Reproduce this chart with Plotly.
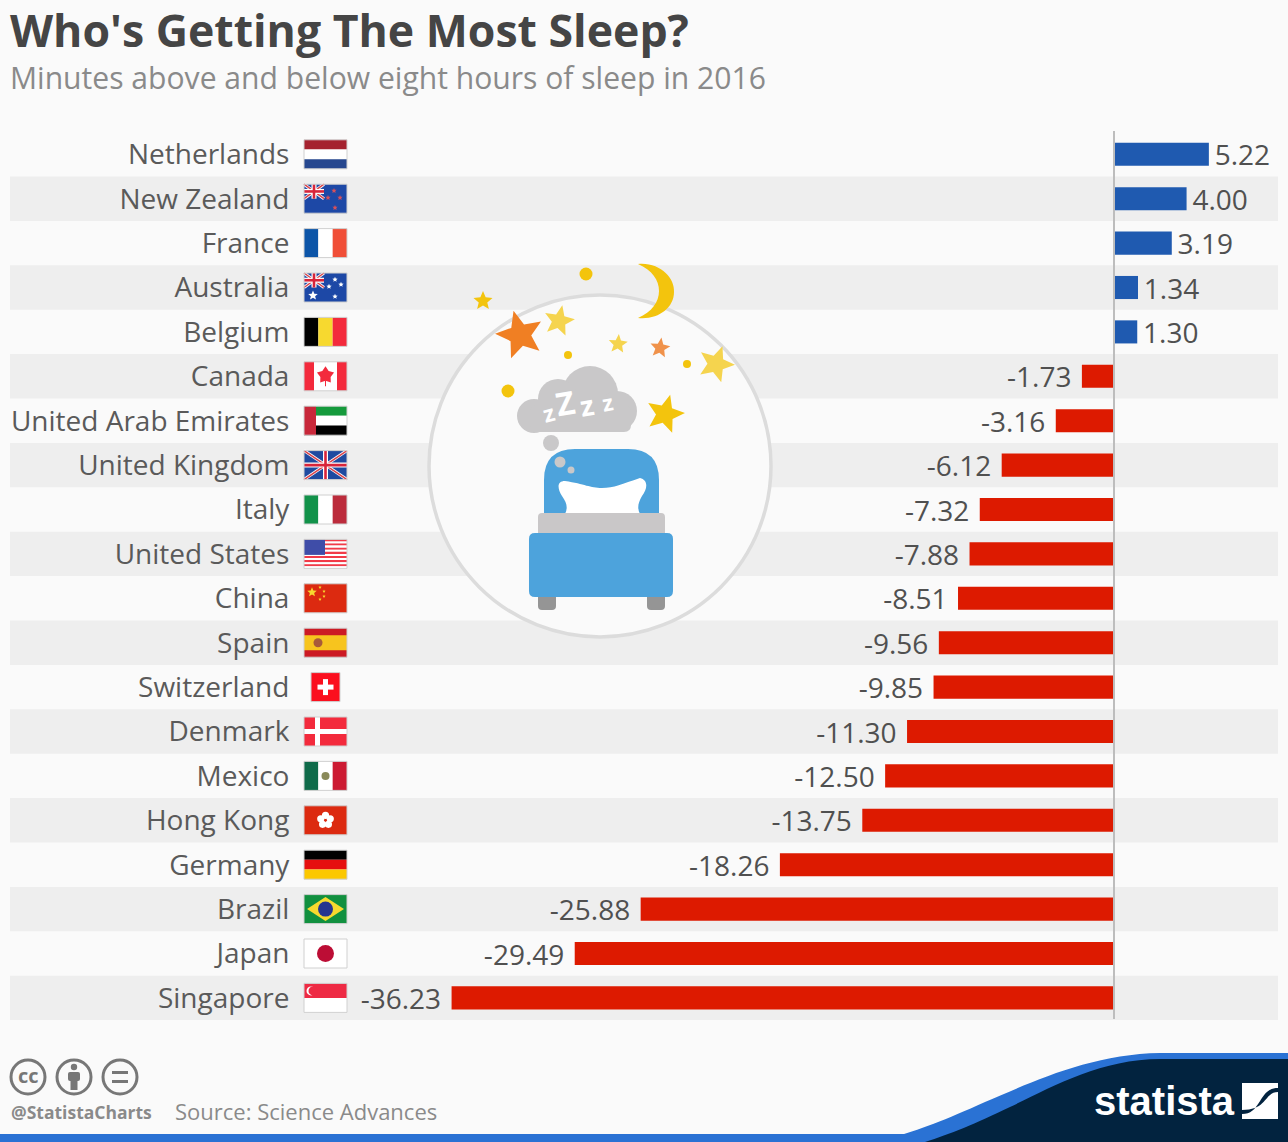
import math
import plotly.graph_objects as go

W, H = 1288, 1142

# Data
countries = ["Netherlands", "New Zealand", "France", "Australia", "Belgium", "Canada",
             "United Arab Emirates", "United Kingdom", "Italy", "United States", "China",
             "Spain", "Switzerland", "Denmark", "Mexico", "Hong Kong", "Germany", "Brazil",
             "Japan", "Singapore"]
minutes = [5.22, 4.00, 3.19, 1.34, 1.30, -1.73, -3.16, -6.12, -7.32, -7.88, -8.51,
           -9.56, -9.85, -11.30, -12.50, -13.75, -18.26, -25.88, -29.49, -36.23]

# Colours
BG = "#fafafa"
BAND = "#eeeeee"
BLUE = "#1f5ab0"
RED = "#dd1a00"
TEXT = "#505050"
GREY = "#8a8a8a"
GOLD = "#f3c40d"
LIGHT = "#f5d44e"
CLOUD = "#c9c8c9"
BED = "#4da3dc"
FONT = "Open Sans"

# Row geometry in page pixels
ROW0, PITCH = 154.3, 44.4
ZERO, SCALE = 1113.5, 18.27
LEFT = 347

shapes = []


def px(x):
    return x / W


def py(y):
    return 1 - y / H


def rect(x0, y0, x1, y1, color):
    shapes.append(dict(type="rect", xref="paper", yref="paper", layer="below",
                       x0=px(x0), x1=px(x1), y0=py(y0), y1=py(y1),
                       fillcolor=color, line_width=0))


def frame(x0, y0, x1, y1, color):
    shapes.append(dict(type="rect", xref="paper", yref="paper", layer="below",
                       x0=px(x0), x1=px(x1), y0=py(y0), y1=py(y1),
                       fillcolor="rgba(0,0,0,0)", line=dict(color=color, width=1)))


def circle(cx, cy, r, color, line=None, lw=0):
    shapes.append(dict(type="circle", xref="paper", yref="paper", layer="below",
                       x0=px(cx - r), x1=px(cx + r), y0=py(cy - r), y1=py(cy + r),
                       fillcolor=color, line=dict(color=line or color, width=lw)))


def path(d, color):
    # d is in page pixels: letters stay, numbers alternate x / y
    out, is_x = [], True
    for tok in d.split():
        if tok.isalpha():
            out.append(tok)
        else:
            out.append(f"{px(float(tok)) if is_x else py(float(tok)):.5f}")
            is_x = not is_x
    shapes.append(dict(type="path", xref="paper", yref="paper", layer="below",
                       path=" ".join(out), fillcolor=color, line_width=0))


def line(x0, y0, x1, y1, color, w):
    shapes.append(dict(type="line", xref="paper", yref="paper", layer="below",
                       x0=px(x0), x1=px(x1), y0=py(y0), y1=py(y1),
                       line=dict(color=color, width=w)))


def star(cx, cy, r, color, rot=0.0, inner=0.45):
    pts = []
    for k in range(10):
        a = math.radians(rot - 90 + 36 * k)
        rr = r if k % 2 == 0 else r * inner
        pts.append((cx + rr * math.cos(a), cy + rr * math.sin(a)))
    d = "M " + " L ".join(f"{a:.2f} {b:.2f}" for a, b in pts) + " Z"
    path(d, color)


def rrect(x0, y0, x1, y1, r, color):
    d = (f"M {x0 + r} {y0} L {x1 - r} {y0} Q {x1} {y0} {x1} {y0 + r} L {x1} {y1 - r} "
         f"Q {x1} {y1} {x1 - r} {y1} L {x0 + r} {y1} Q {x0} {y1} {x0} {y1 - r} "
         f"L {x0} {y0 + r} Q {x0} {y0} {x0 + r} {y0} Z")
    path(d, color)


def row(i):
    return ROW0 + PITCH * i


# Zebra bands
for i in range(1, len(countries), 2):
    rect(10, row(i) - 22.2, 1278, row(i) + 22.2, BAND)

# Flags
FX0, FX1, FH = 304, 347, 14.5


def hflag(c, cols):
    h = 2 * FH / len(cols)
    for k, col in enumerate(cols):
        rect(FX0, c - FH + k * h, FX1, c - FH + (k + 1) * h, col)


def vflag(c, cols):
    w = (FX1 - FX0) / len(cols)
    for k, col in enumerate(cols):
        rect(FX0 + k * w, c - FH, FX0 + (k + 1) * w, c + FH, col)


def jack(x0, y0, x1, y1):
    line(x0, y0, x1, y1, "#ffffff", 3)
    line(x0, y1, x1, y0, "#ffffff", 3)
    line(x0, y0, x1, y1, "#d8424a", 1.5)
    line(x0, y1, x1, y0, "#d8424a", 1.5)
    mx, my = (x0 + x1) / 2, (y0 + y1) / 2
    rect(mx - 2.5, y0, mx + 2.5, y1, "#ffffff")
    rect(x0, my - 2.5, x1, my + 2.5, "#ffffff")
    rect(mx - 1.3, y0, mx + 1.3, y1, "#d8243a")
    rect(x0, my - 1.3, x1, my + 1.3, "#d8243a")


c = row(0)
hflag(c, ["#a5222f", "#ffffff", "#26478f"])
c = row(1)
rect(FX0, c - FH, FX1, c + FH, "#1d48a6")
jack(FX0, c - FH, FX0 + 20, c)
for a, b in [(334, -8), (328, -1), (340, -1), (335, 9)]:
    star(a, c + b, 2.8, "#d8505a")
c = row(2)
vflag(c, ["#0c55a8", "#ffffff", "#f04e37"])
c = row(3)
rect(FX0, c - FH, FX1, c + FH, "#1d48a6")
jack(FX0, c - FH, FX0 + 20, c)
star(313, c + 8, 5, "#ffffff")
for a, b in [(335, -8), (329, -1), (341, -3), (335, 9)]:
    star(a, c + b, 2.8, "#ffffff")
c = row(4)
vflag(c, ["#000000", "#f7d92f", "#f32a3c"])
c = row(5)
rect(FX0, c - FH, FX1, c + FH, "#ffffff")
rect(FX0, c - FH, FX0 + 10, c + FH, "#f32a3c")
rect(FX1 - 10, c - FH, FX1, c + FH, "#f32a3c")
star(325.5, c - 1, 9, "#f32a3c", inner=0.6)
rect(325, c + 4, 326, c + 10, "#f32a3c")
c = row(6)
hflag(c, ["#159a3c", "#ffffff", "#000000"])
rect(FX0, c - FH, FX0 + 12, c + FH, "#c8283a")
c = row(7)
rect(FX0, c - FH, FX1, c + FH, "#1f4aa0")
jack(FX0, c - FH, FX1, c + FH)
c = row(8)
vflag(c, ["#12924a", "#ffffff", "#bc2c3c"])
c = row(9)
for k in range(7):
    rect(FX0, c - FH + k * 29 / 7, FX1, c - FH + (k + 0.5) * 29 / 7, "#f23a48")
    rect(FX0, c - FH + (k + 0.5) * 29 / 7, FX1, c - FH + (k + 1) * 29 / 7, "#ffffff")
rect(FX0, c - FH, FX0 + 21, c + 1, "#3f4da8")
c = row(10)
rect(FX0, c - FH, FX1, c + FH, "#dc2a10")
star(312, c - 6, 5, "#f7d92f")
for a, b in [(320, -11), (324, -7), (324, -2), (320, 1)]:
    star(a, c + b, 1.8, "#f7d92f")
c = row(11)
rect(FX0, c - FH, FX1, c + FH, "#cc1a24")
rect(FX0, c - 7.5, FX1, c + 7.5, "#f7c41e")
circle(318, c, 4.5, "#a85a3a")
c = row(12)
rect(311, c - FH, 340, c + FH, "#fb0f1e")
rect(323, c - 8, 328, c + 8, "#ffffff")
rect(317.5, c - 2.5, 333.5, c + 2.5, "#ffffff")
c = row(13)
rect(FX0, c - FH, FX1, c + FH, "#f32a3c")
rect(315, c - FH, 320, c + FH, "#ffffff")
rect(FX0, c - 2.5, FX1, c + 2.5, "#ffffff")
c = row(14)
vflag(c, ["#0f6b4a", "#ffffff", "#cc1a32"])
circle(325.5, c, 4, "#8a8a5a")
c = row(15)
rect(FX0, c - FH, FX1, c + FH, "#dc2a10")
for k in range(5):
    a = math.radians(-90 + 72 * k)
    circle(325.5 + 5 * math.cos(a), c + 5 * math.sin(a), 3.6, "#ffffff")
c = row(16)
hflag(c, ["#000000", "#e60f0f", "#fcc800"])
c = row(17)
rect(FX0, c - FH, FX1, c + FH, "#11903f")
path(f"M 307 {c} L 325.5 {c - 12} L 344 {c} L 325.5 {c + 12} Z", "#f7d92f")
circle(325.5, c, 7.5, "#26358f")
c = row(18)
rect(FX0, c - FH, FX1, c + FH, "#ffffff")
circle(325.5, c, 8.5, "#bc0d35")
c = row(19)
hflag(c, ["#ee2a44", "#ffffff"])
circle(311, c - 7, 4.5, "#ffffff")
circle(313, c - 7, 4.5, "#ee2a44")

# thin grey edge round every flag
for i in range(len(countries)):
    if countries[i] == "Switzerland":
        frame(311, row(i) - FH, 340, row(i) + FH, "#d0d0d0")
    else:
        frame(FX0, row(i) - FH, FX1, row(i) + FH, "#d0d0d0")

# Illustration
circle(600, 466, 171, BG, "#dcdcdc", 3.5)
path("M 638 264 C 660 262 675 278 674 292 C 674 308 658 320 638 318 "
     "C 652 312 659 302 659 291 C 659 280 652 270 638 264 Z", GOLD)
star(483, 301, 10, GOLD)
star(520, 335, 25, "#f07f23", rot=-15)
star(559, 321, 16, LIGHT, rot=12)
star(618, 344, 10, LIGHT, rot=5)
star(660, 348, 10.5, "#f0924a", rot=8)
star(716, 364, 19, LIGHT, rot=20)
star(665, 414, 20, GOLD, rot=15)
circle(586, 274, 6.5, GOLD)
circle(568, 355, 4, GOLD)
circle(687, 364, 4, GOLD)
circle(508, 391, 6.5, GOLD)
# cloud
circle(590, 394, 28, CLOUD)
circle(558, 399, 20, CLOUD)
circle(617, 411, 20, CLOUD)
circle(534, 416, 17, CLOUD)
rrect(530, 405, 631, 432, 7, CLOUD)
circle(551, 443, 8, CLOUD)
# bed
path("M 544 513 L 544 480 Q 544 449 575 449 L 628 449 Q 659 449 659 480 L 659 513 Z", BED)
path("M 565 481 C 585 484 590 488 602 488 C 614 488 622 484 640 478 C 648 480 648 488 642 496 "
     "C 638 503 637 508 640 514 L 565 514 C 568 508 567 503 562 496 C 557 488 557 481 565 481 Z",
     "#ffffff")
rrect(538, 513, 665, 540, 4, "#c9c7c8")
rrect(538, 590, 556, 610, 4, "#959595")
rrect(647, 590, 665, 610, 4, "#959595")
rrect(529, 533, 673, 597, 6, BED)
circle(560, 462, 5.5, CLOUD)
circle(571, 470, 3.5, CLOUD)

# Licence icons
for a in (28, 74, 120):
    circle(a, 1077, 17, BG, "#777777", 3)
circle(74, 1067, 3.2, "#777777")
rrect(68, 1072, 80, 1081, 2, "#777777")
rect(70.5, 1080, 77.5, 1090, "#777777")
rect(112, 1071, 128, 1074, "#777777")
rect(112, 1080, 128, 1083, "#777777")

# Footer swoosh and logo
rect(0, 1134, W, H, "#2a72d4")
path("M 890 1138 C 920 1130 945 1120 985 1102 C 1030 1083 1090 1054 1160 1053 L 1288 1053 "
     "L 1288 1142 L 890 1142 Z", "#2a72d4")
path("M 925 1142 C 950 1134 975 1124 1010 1107 C 1050 1088 1100 1059 1160 1059 L 1288 1059 "
     "L 1288 1142 Z", "#02233f")
rect(1242, 1083, 1278, 1119, "#ffffff")
path("M 1242 1114 C 1262 1114 1258 1088 1278 1088 L 1278 1092 C 1264 1092 1268 1110 1242 1110 Z",
     "#02233f")

# Axis line on top of the bars
shapes.append(dict(type="line", xref="paper", yref="paper", layer="above",
                   x0=px(1114), x1=px(1114), y0=py(131), y1=py(1019),
                   line=dict(color="#bdbdbd", width=2)))

fig = go.Figure(go.Bar(
    y=countries,
    x=minutes,
    orientation="h",
    width=0.52,
    marker=dict(color=[BLUE if v > 0 else RED for v in minutes], line_width=0),
    # thin spaces widen the gap between label and bar
    text=[f"\u200a{v:.2f}" if v > 0 else f"{v:.2f}\u2009\u200a" for v in minutes],
    textposition="outside",
    constraintext="none",
    cliponaxis=False,
    textfont=dict(family=FONT, size=28, color=TEXT),
    hoverinfo="skip",
))


def note(text, x, y, size, color=TEXT, anchor="left", family=FONT, bold=False, angle=0):
    if bold:
        text = f"<b>{text}</b>"
    return dict(text=text, xref="paper", yref="paper", x=px(x), y=py(y), xanchor=anchor,
                yanchor="middle", showarrow=False, textangle=angle,
                font=dict(family=family, size=size, color=color))


annotations = [
    note("Minutes above and below eight hours of sleep in 2016", 8, 78, 30.1, GREY),
    note("z", 548, 413, 23, "#ffffff", "center", bold=True, angle=-15),
    note("Z", 565, 403, 32, "#ffffff", "center", bold=True, angle=-10),
    note("z", 587, 405, 28, "#ffffff", "center", bold=True, angle=-10),
    note("z", 607, 402, 22, "#ffffff", "center", bold=True, angle=-10),
    note("cc", 28, 1075, 20, "#777777", "center", bold=True),
    note("@StatistaCharts", 9, 1112, 17.5, GREY, bold=True),
    note("Source: Science Advances", 173, 1111, 22, GREY),
    note("statista", 1092, 1101, 40, "#ffffff", family="Liberation Sans", bold=True),
]

fig.update_layout(
    width=W,
    height=H,
    margin=dict(l=0, r=0, t=0, b=0),
    paper_bgcolor=BG,
    plot_bgcolor="rgba(0,0,0,0)",
    showlegend=False,
    title=dict(text="<b>Who's Getting The Most Sleep?</b>", x=px(10), xref="paper", xanchor="left",
               y=py(31), yref="paper", yanchor="middle",
               font=dict(family=FONT, size=44.6, color="#454545")),
    shapes=shapes,
    annotations=annotations,
    xaxis=dict(domain=[px(LEFT), 1], range=[(LEFT - ZERO) / SCALE, (W - ZERO) / SCALE],
               visible=False, fixedrange=True),
    yaxis=dict(domain=[0, 1], type="category", categoryorder="array", categoryarray=countries,
               range=[(H - ROW0) / PITCH, -ROW0 / PITCH], showgrid=False, zeroline=False,
               showline=False, ticks="outside", ticklen=51, tickcolor="rgba(0,0,0,0)",
               tickfont=dict(family=FONT, size=28, color="#5a5a5a"), fixedrange=True),
)

fig.write_html("out.html", config={"displayModeBar": False},
               post_script="document.body.style.margin='0';")
